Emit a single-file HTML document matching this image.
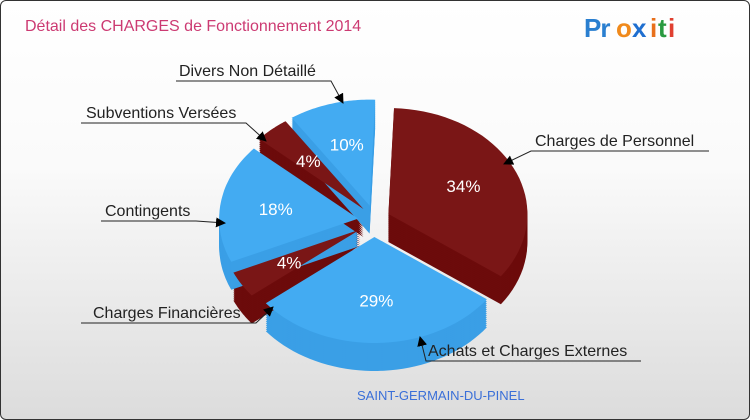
<!DOCTYPE html>
<html><head><meta charset="utf-8"><style>
body{margin:0;width:750px;height:420px;overflow:hidden;font-family:"Liberation Sans",sans-serif}
#c{position:relative;width:748px;height:418px;border:1px solid #333;border-radius:6px;background:linear-gradient(#ffffff,#fafafa 40%,#dcdcdc);overflow:hidden}
</style></head><body>
<div id="c">
<svg id="s" width="748" height="418">
<defs><marker id="ar" markerWidth="10" markerHeight="10" refX="9" refY="5" orient="auto" markerUnits="userSpaceOnUse"><path d="M0,0 L10,5 L0,10 z" fill="#000"/></marker></defs>
<text x="24" y="30" font-size="16" fill="#cc3a72">Détail des CHARGES de Fonctionnement 2014</text>
<g font-size="26" font-weight="bold" font-family="Liberation Sans, sans-serif">
<text x="583" y="36" fill="#2a7fd0" letter-spacing="-1">Pr</text><text x="615" y="36" fill="#f08a1c">o</text><text x="631" y="36" fill="#1f6fd0">x</text><text x="649" y="36" fill="#e8701c">i</text><text x="657" y="36" fill="#2a9a40">t</text><text x="667" y="36" fill="#e04030">i</text>
</g>
<g id="sides"></g><g id="tops"></g><g id="labs"></g>
<g stroke="#222" stroke-width="1" fill="none">
<polyline points="175,80 330,80 342,102" marker-end="url(#ar)"/>
<polyline points="80,122 245,122 265,140" marker-end="url(#ar)"/>
<polyline points="100,220 195,220 224,222" marker-end="url(#ar)"/>
<polyline points="80,322 255,322 272,306" marker-end="url(#ar)"/>
<polyline points="708,150 530,150 503,163" marker-end="url(#ar)"/>
<polyline points="640,360 425,360 419,336" marker-end="url(#ar)"/>
</g>
<g font-size="16" fill="#222">
<text x="178" y="75">Divers Non Détaillé</text>
<text x="85" y="117">Subventions Versées</text>
<text x="104" y="215">Contingents</text>
<text x="92" y="317">Charges Financières</text>
<text x="534" y="145">Charges de Personnel</text>
<text x="427" y="355">Achats et Charges Externes</text>
</g>
<text x="356" y="399" font-size="13" fill="#3a6fd8">SAINT-GERMAIN-DU-PINEL</text>
</svg></div>
<script>
const categories=["Charges de Personnel","Achats et Charges Externes","Charges Financières","Contingents","Subventions Versées","Divers Non Détaillé"];
const values=[34,29,4,18,4,10];
const pctLabels=["34%","29%","4%","18%","4%","10%"];
const isRed=[true,false,true,false,true,false];
const NS="http://www.w3.org/2000/svg";
const cx=373,cy=220,rx=139,ry=106,depth=28,ex=16;
const total=values.reduce((a,b)=>a+b,0);
const sides=document.getElementById('sides'),tops=document.getElementById('tops'),labs=document.getElementById('labs');
function pathFor(a0,a1,ox,oy){let d=`M${ox},${oy}`;const n=40;for(let i=0;i<=n;i++){const a=a0+(a1-a0)*i/n;d+=` L${(ox+rx*Math.cos(a)).toFixed(1)},${(oy+ry*Math.sin(a)).toFixed(1)}`;}return d+'Z';}
let ang=-Math.PI/2+0.04;
values.forEach((v,i)=>{
 const a0=ang,a1=ang+v/total*2*Math.PI;ang=a1;
 const m=(a0+a1)/2,ox=cx+ex*Math.cos(m),oy=cy+ex*Math.sin(m);
 for(let d=depth;d>0;d-=2){const p=document.createElementNS(NS,'path');p.setAttribute('d',pathFor(a0,a1,ox,oy+d));p.setAttribute('fill',isRed[i]?'#6c0b0b':'#3a9fe6');
 
 
 sides.appendChild(p);}
 const t=document.createElementNS(NS,'path');t.setAttribute('d',pathFor(a0,a1,ox,oy));t.setAttribute('fill',isRed[i]?'#7a1616':'#43abf2');
 
 
 tops.appendChild(t);
 const tx=document.createElementNS(NS,'text');const f=0.6;
 tx.setAttribute('x',ox+rx*f*Math.cos(m));tx.setAttribute('y',oy+ry*f*Math.sin(m)+6);
 tx.setAttribute('text-anchor','middle');tx.setAttribute('font-size','17');tx.setAttribute('fill','#fff');tx.textContent=pctLabels[i];
 
 
 labs.appendChild(tx);
});
</script>
</body></html>
